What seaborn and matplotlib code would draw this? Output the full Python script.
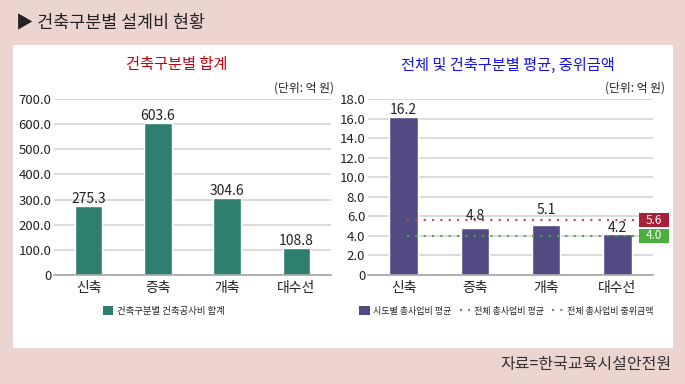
"""
건축구분별 설계비 현황 - two bar panels (sum, and mean with overall mean/median lines)
"""

import numpy as np
import matplotlib
matplotlib.use("Agg")
import matplotlib.pyplot as plt
import matplotlib.transforms as mtransforms
from matplotlib.patches import Rectangle, Patch
from matplotlib.lines import Line2D
from matplotlib.ticker import FuncFormatter
import seaborn as sns

# ---------------- data ----------------
categories     = ["신축", "증축", "개축", "대수선"]
total_cost     = [275.3, 603.6, 304.6, 108.8]
avg_cost       = [16.2, 4.8, 5.1, 4.2]
overall_mean   = 5.6
overall_median = 4.0

left_ticks  = [0, 100, 200, 300, 400, 500, 600, 700]
right_ticks = [0, 2, 4, 6, 8, 10, 12, 14, 16, 18]

# ---------------- style ----------------
BG        = "#EDD5CF"
TEAL      = "#2E7F6F"
PURPLE    = "#514A83"
RED_LINE  = "#D4404C"
RED_BOX   = "#A8203A"
GRN_LINE  = "#3DB23D"
GRN_BOX   = "#4BAF3E"
GRID      = "#D4D4D4"
AXIS      = "#A6A6A6"

sns.set_theme(style="white")
plt.rcParams["font.family"] = ["Noto Sans CJK KR", "DejaVu Sans"]

W, H = 685, 384
fig = plt.figure(figsize=(W / 100, H / 100), dpi=100)
fig.patch.set_facecolor(BG)

def fx(px):
    return px / W

def fy(py):
    return 1 - py / H

# white panel (below the axes)
fig.patches.append(Rectangle((fx(13), fy(348)), fx(673) - fx(13), fy(45) - fy(348),
                             transform=fig.transFigure, fc="white", ec="none", zorder=-5))

fig.text(fx(16), fy(22), "▶ 건축구분별 설계비 현황", fontsize=12.5, color="#222222",
         ha="left", va="center")
fig.text(fx(672), fy(365), "자료=한국교육시설안전원", fontsize=11.5, color="#333333",
         ha="right", va="center")


def fmt(v, pos):
    return "0" if v == 0 else f"{v:.1f}"


def style_axes(ax, ticks):
    ax.set_facecolor("none")
    ax.set_ylim(ticks[0], ticks[-1])
    ax.set_yticks(ticks)
    ax.yaxis.set_major_formatter(FuncFormatter(fmt))
    ax.grid(axis="y", color=GRID, lw=1.2)
    ax.set_axisbelow(True)
    for s in ["top", "right", "left"]:
        ax.spines[s].set_visible(False)
    ax.spines["bottom"].set_color(AXIS)
    ax.spines["bottom"].set_linewidth(1.2)
    ax.tick_params(axis="y", length=0, pad=2, labelsize=9.5, labelcolor="#222222")
    ax.tick_params(axis="x", length=0, pad=4, labelsize=10, labelcolor="#222222")
    ax.set_xlabel("")
    ax.set_ylabel("")


# ---------------- left panel ----------------
ax1 = fig.add_axes([fx(54), fy(275), fx(331) - fx(54), fy(99) - fy(275)])
sns.barplot(x=categories, y=total_cost, color=TEAL, width=0.4, saturation=1, ax=ax1)
style_axes(ax1, left_ticks)
for i, v in enumerate(total_cost):
    ax1.annotate(f"{v:.1f}", (i, v), xytext=(0, 0), textcoords="offset points",
                 ha="center", va="bottom", fontsize=10, color="#222222")

fig.text(fx(177), fy(65), "건축구분별 합계", fontsize=11, color="#C8000A",
         ha="center", va="center")
fig.text(fx(334), fy(88), "(단위: 억 원)", fontsize=8.5, color="#222222",
         ha="right", va="center")
fig.legend(handles=[Patch(fc=TEAL, ec="none", label="건축구분별 건축공사비 합계")],
           loc="center", bbox_to_anchor=(fx(164), fy(311)), frameon=False,
           fontsize=6.8, handlelength=1.1, handleheight=1.1, handletextpad=0.4)

# ---------------- right panel ----------------
ax2 = fig.add_axes([fx(368), fy(275), fx(653) - fx(368), fy(99) - fy(275)])
sns.barplot(x=categories, y=avg_cost, color=PURPLE, width=0.4, saturation=1, ax=ax2)
style_axes(ax2, right_ticks)

# labels shifted upward where they would cross the reference lines
label_offsets = [0, 4, 6, -1]
for i, v in enumerate(avg_cost):
    ax2.annotate(f"{v:.1f}", (i, v), xytext=(0, label_offsets[i]), textcoords="offset points",
                 ha="center", va="bottom", fontsize=10, color="#222222")

ax2.axhline(overall_mean, xmin=0.137, xmax=0.95, color=RED_LINE, lw=1.5,
            ls=(0, (1, 3)), clip_on=False)
ax2.axhline(overall_median, xmin=0.137, xmax=0.95, color=GRN_LINE, lw=1.5,
            ls=(0, (1, 3)), clip_on=False)

blend = mtransforms.blended_transform_factory(ax2.transAxes, ax2.transData)
box_h = 14 / (176 / (right_ticks[-1] - right_ticks[0]))
for val, col in [(overall_mean, RED_BOX), (overall_median, GRN_BOX)]:
    ax2.add_patch(Rectangle((0.951, val - box_h / 2), 0.106, box_h, transform=blend,
                            fc=col, ec="none", clip_on=False, zorder=5))
    ax2.text(1.004, val, f"{val:.1f}", transform=blend, ha="center", va="center",
             color="white", fontsize=8.5, zorder=6, clip_on=False)

fig.text(fx(508), fy(65), "전체 및 건축구분별 평균, 중위금액", fontsize=11, color="#1414E6",
         ha="center", va="center")
fig.text(fx(665), fy(88), "(단위: 억 원)", fontsize=8.5, color="#222222",
         ha="right", va="center")

handles = [
    Patch(fc=PURPLE, ec="none", label="시도별 총사업비 평균"),
    Line2D([], [], color=RED_LINE, lw=1.5, ls=(0, (1, 3)), label="전체 총사업비 평균"),
    Line2D([], [], color=GRN_LINE, lw=1.5, ls=(0, (1, 3)), label="전체 총사업비 중위금액"),
]
fig.legend(handles=handles, loc="center", bbox_to_anchor=(fx(506), fy(311)), ncol=3,
           frameon=False, fontsize=6.5, handlelength=1.2, handleheight=1.1,
           handletextpad=0.4, columnspacing=0.9)

plt.savefig("out.png", dpi=100, facecolor=BG)
